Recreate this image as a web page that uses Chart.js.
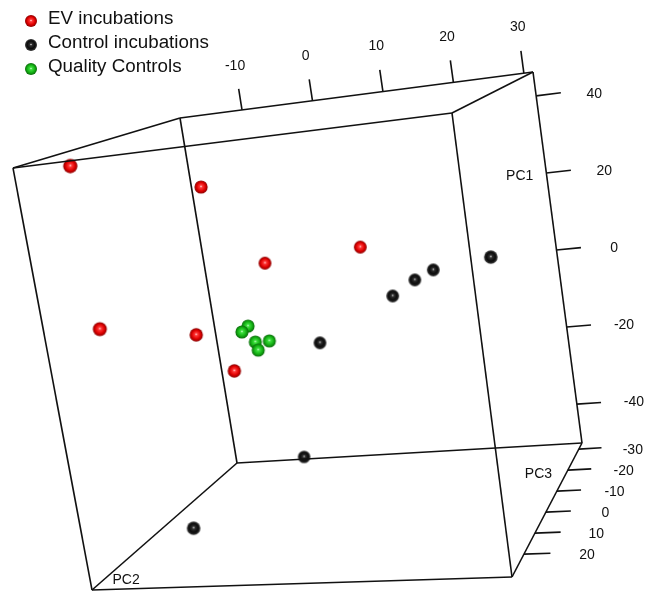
<!DOCTYPE html>
<html><head><meta charset="utf-8">
<script src="https://cdn.jsdelivr.net/npm/chart.js@4.4.0/dist/chart.umd.min.js"></script>
<style>html,body{margin:0;padding:0;background:#fff}</style>
</head><body><canvas id="pcaChart" width="646" height="591"></canvas>
<script>
// groups and PCA scores
const groups = ['EV incubations', 'Control incubations', 'Quality Controls'];
const evPC1 = [44.7, 32.9, 10.9, 12.5, 6.0, -1.5, -10.8];
const evPC2 = [-13.3, -5.8, -2.1, 10.5, -15.2, -8.5, -4.5];
const evPC3 = [27.7, 2.2, -7.4, -7.4, 21.3, 5.4, 5.4];
const ctlPC1 = [11.8, 4.5, 2.5, -0.9, -9.8, -40.3, -45.0];
const ctlPC2 = [30.6, 18.8, 16.2, 13.0, 3.4, -2.9, -11.0];
const ctlPC3 = [11.8, -10.6, -10.6, -10.6, -7.4, -13.8, 11.8];
const qcPC1 = [-2.3, -3.6, -6.3, -6.3, -8.3];
const qcPC2 = [-3.7, -4.6, -3.1, -1.3, -2.9];
const qcPC3 = [-1.0, -1.0, -1.0, -1.0, -1.0];

// axis ticks
const pc1Ticks = [-40, -20, 0, 20, 40];
const pc2Ticks = [-10, 0, 10, 20, 30];
const pc3Ticks = [-30, -20, -10, 0, 10, 20];
const pc1Range = [-50.1, 46.2];
const pc2Range = [-18.8, 31.3];
const pc3Range = [-32.9, 30.9];

// view: where the box corners land (0 = back face, 1 = front face)
const view = {
  tl0: [180, 118], tr0: [533, 72], bl0: [237, 463], br0: [582, 443],
  tl1: [13, 168], tr1: [452, 113], bl1: [92, 590], br1: [512, 577]
};

function lerp(a, b, t) { return [a[0] + (b[0] - a[0]) * t, a[1] + (b[1] - a[1]) * t]; }
function proj(u, v, w) {
  const back = lerp(lerp(view.bl0, view.br0, u), lerp(view.tl0, view.tr0, u), v);
  const front = lerp(lerp(view.bl1, view.br1, u), lerp(view.tl1, view.tr1, u), v);
  const p = lerp(back, front, w);
  return {x: p[0], y: p[1]};
}
const nu = pc2 => (pc2 - pc2Range[0]) / (pc2Range[1] - pc2Range[0]);
const nv = pc1 => (pc1 - pc1Range[0]) / (pc1Range[1] - pc1Range[0]);
const nw = pc3 => (pc3 - pc3Range[0]) / (pc3Range[1] - pc3Range[0]);

function toPoints(pc1, pc2, pc3) {
  return pc1.map((v, i) => {
    const p = proj(nu(pc2[i]), nv(v), nw(pc3[i]));
    p.w = nw(pc3[i]);
    return p;
  });
}

// shaded sphere sprites
const sprites = {};
const shades = {
  red: ['#fff0f0', '#ff3a3a', '#e00000', '#8a0000'],
  black: ['#f4f4f4', '#303030', '#0a0a0a', '#3c3c3c'],
  green: ['#e0ffe0', '#3ee03e', '#14b014', '#0a6a0a']
};
function sphere(name, r) {
  const key = name + r.toFixed(1);
  if (sprites[key]) return sprites[key];
  const s = Math.ceil(r * 2 + 2);
  const c = document.createElement('canvas');
  c.width = c.height = s;
  const g = c.getContext('2d');
  const m = s / 2;
  const col = shades[name];
  const grad = g.createRadialGradient(m, m - r * 0.1, 0, m, m, r);
  grad.addColorStop(0, col[0]);
  grad.addColorStop(0.2, col[1]);
  grad.addColorStop(0.65, col[2]);
  grad.addColorStop(1, col[3]);
  g.fillStyle = grad;
  g.beginPath(); g.arc(m, m, r, 0, Math.PI * 2); g.fill();
  sprites[key] = c;
  return c;
}
const radiusFor = w => 5.9 + 1.3 * w;

function pointSet(label, name, pts) {
  return {
    type: 'scatter', label: label, data: pts, clip: false, sphere: name,
    pointStyle: ctx => sphere(name, radiusFor(ctx.raw ? ctx.raw.w : 0.5)),
    pointRadius: 7, pointHoverRadius: 7
  };
}

function seg(a, b) {
  return {
    type: 'scatter', showLine: true, borderColor: '#111', borderWidth: 1.6,
    pointRadius: 0, clip: false, data: [proj(a[0], a[1], a[2]), proj(b[0], b[1], b[2])]
  };
}

const edges = [
  [[0,1,0],[1,1,0]],[[0,0,0],[1,0,0]],[[0,0,0],[0,1,0]],[[1,0,0],[1,1,0]],
  [[0,1,1],[1,1,1]],[[0,0,1],[1,0,1]],[[0,0,1],[0,1,1]],[[1,0,1],[1,1,1]],
  [[0,1,0],[0,1,1]],[[1,1,0],[1,1,1]],[[0,0,0],[0,0,1]],[[1,0,0],[1,0,1]]
];
const lineSets = edges.map(e => seg(e[0], e[1]));
pc2Ticks.forEach(t => lineSets.push(seg([nu(t), 1, 0], [nu(t), 1.06, 0])));
pc1Ticks.forEach(t => lineSets.push(seg([1, nv(t), 0], [1.07, nv(t), 0])));
pc3Ticks.forEach(t => lineSets.push(seg([1, 0, nw(t)], [1.065, 0, nw(t)])));

const pointSets = [
  pointSet(groups[0], 'red', toPoints(evPC1, evPC2, evPC3)),
  pointSet(groups[1], 'black', toPoints(ctlPC1, ctlPC2, ctlPC3)),
  pointSet(groups[2], 'green', toPoints(qcPC1, qcPC2, qcPC3))
];

// tick labels, axis names and legend
const textPlugin = {
  id: 'boxText',
  afterDatasetsDraw(chart) {
    const c = chart.ctx, xs = chart.scales.x, ys = chart.scales.y;
    const put = (txt, p) => c.fillText(txt, xs.getPixelForValue(p.x), ys.getPixelForValue(p.y));
    // label sits level with its tick
    const level = (p, base, dy) => ({x: p.x, y: base.y + dy});
    c.save();
    c.fillStyle = '#111';
    c.font = '14px "Liberation Sans", Arial, sans-serif';
    c.textAlign = 'center';
    c.textBaseline = 'middle';
    pc2Ticks.forEach(t => put(String(t), proj(nu(t), 1.125, 0)));
    pc1Ticks.forEach(t => put(String(t), level(proj(1.165, nv(t), 0), proj(1, nv(t), 0), -2)));
    pc3Ticks.forEach(t => put(String(t), level(proj(1.155, 0, nw(t)), proj(1, 0, nw(t)), 1)));
    put('PC1', proj(0.924, nv(20), 0));
    put('PC2', proj(0.085, 0.02, 1));
    put('PC3', proj(0.923, 0, nw(-18.6)));

    c.font = '18.8px "Liberation Sans", Arial, sans-serif';
    c.textAlign = 'left';
    const rows = [20, 44, 68];
    pointSets.forEach((ds, i) => {
      const img = sphere(ds.sphere, 6);
      c.drawImage(img, 31 - img.width / 2, rows[i] + 1 - img.height / 2);
      c.fillText(ds.label, 48, rows[i] - 1);
    });
    c.restore();
  }
};

new Chart(document.getElementById('pcaChart'), {
  type: 'scatter',
  data: { datasets: lineSets.concat(pointSets) },
  options: {
    responsive: false, animation: false,
    layout: { padding: 0, autoPadding: false },
    scales: {
      x: { min: 0, max: 646, display: false },
      y: { min: 0, max: 591, reverse: true, display: false }
    },
    plugins: { legend: { display: false }, tooltip: { enabled: false } }
  },
  plugins: [textPlugin]
});
</script></body></html>
